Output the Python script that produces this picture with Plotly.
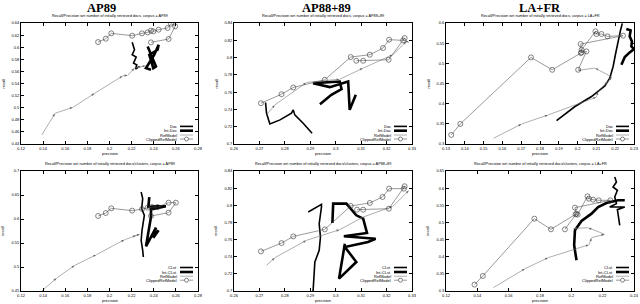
import plotly.graph_objects as go

# ---------------- data: precision / recall per series ----------------
# Panel 1: AP89, documents
ap89_doc_prec = [0.2205, 0.2226, 0.2205, 0.2241, 0.2217, 0.2247, 0.2235, 0.2271]
ap89_doc_rec = [0.6080, 0.5958, 0.5875, 0.5836, 0.5737, 0.5709, 0.5638, 0.5682]
ap89_intdoc_prec = [0.2345, 0.2420, 0.2396, 0.2360, 0.2435, 0.2444, 0.2405, 0.2330, 0.2375]
ap89_intdoc_rec = [0.6013, 0.5682, 0.5654, 0.5875, 0.5958, 0.6041, 0.5875, 0.5654, 0.5627]
ap89_ref_prec = [0.1388, 0.1508, 0.1672, 0.1867, 0.2121, 0.2166, 0.2226, 0.2286, 0.2330]
ap89_ref_rec = [0.4549, 0.4908, 0.5008, 0.5240, 0.5527, 0.5538, 0.5654, 0.5682, 0.5693]
ap89_clip_prec = [0.1897, 0.1966, 0.2016, 0.2205, 0.2294, 0.2345, 0.2375, 0.2396, 0.2444,
                  0.2525, 0.2555, 0.2594, 0.2534, 0.2375]
ap89_clip_rec = [0.6085, 0.6140, 0.6229, 0.6190, 0.6229, 0.6245, 0.6273, 0.6262, 0.6290,
                 0.6317, 0.6389, 0.6345, 0.6135, 0.6080]

# Panel 2: AP88+89, documents
ap8889_doc_prec = [0.2724, 0.2728, 0.2741, 0.2781, 0.2826, 0.2833, 0.2839, 0.2872, 0.2907]
ap8889_doc_rec = [0.7480, 0.7356, 0.7232, 0.7279, 0.7356, 0.7395, 0.7337, 0.7240, 0.7124]
ap8889_intdoc_prec = [0.2938, 0.2983, 0.3023, 0.3016, 0.2911, 0.2977, 0.3049, 0.3055, 0.3079]
ap8889_intdoc_rec = [0.7460, 0.7569, 0.7634, 0.7723, 0.7704, 0.7658, 0.7723, 0.7395, 0.7569]
ap8889_ref_prec = [0.2728, 0.2761, 0.2885, 0.3016, 0.3108, 0.3225, 0.3278, 0.3288]
ap8889_ref_rec = [0.7337, 0.7453, 0.7712, 0.7750, 0.7878, 0.8033, 0.8187, 0.8176]
ap8889_clip_prec = [0.2706, 0.2787, 0.2833, 0.2957, 0.3059, 0.3134, 0.3186, 0.3210, 0.3265,
                    0.3271, 0.3208, 0.3108, 0.3081]
ap8889_clip_rec = [0.7472, 0.7576, 0.7654, 0.7743, 0.8006, 0.8033, 0.8110, 0.8207, 0.8199,
                   0.8226, 0.7975, 0.7963, 0.7963]

# Panel 3: LA+FR, documents
lafr_doc_prec = [0.1888, 0.1986, 0.2074, 0.2145, 0.2171, 0.2189, 0.2201, 0.2215, 0.2229, 0.2238]
lafr_doc_rec = [0.3581, 0.3929, 0.4177, 0.4442, 0.4633, 0.4923, 0.5213, 0.5544, 0.5834, 0.5990]
lafr_intdoc_prec = [0.2259, 0.2282, 0.2277, 0.2289, 0.2286, 0.2300, 0.2277, 0.2251, 0.2233]
lafr_intdoc_rec = [0.5851, 0.5818, 0.5669, 0.5544, 0.5420, 0.5354, 0.5271, 0.5155, 0.4964]
lafr_ref_prec = [0.1553, 0.1703, 0.1844, 0.2100, 0.2109, 0.2159, 0.2183, 0.2092, 0.2000]
lafr_ref_rec = [0.3142, 0.3498, 0.3722, 0.4161, 0.4302, 0.4550, 0.4658, 0.4882, 0.4824]
lafr_clip_prec = [0.1328, 0.1376, 0.1752, 0.1865, 0.2017, 0.2021, 0.2095, 0.2100, 0.2127,
                  0.2159, 0.2242, 0.2016, 0.2021, 0.2047, 0.2003]
lafr_clip_rec = [0.3225, 0.3498, 0.5147, 0.4840, 0.5254, 0.5337, 0.5793, 0.5727, 0.5727,
                 0.5669, 0.5685, 0.5478, 0.5271, 0.5296, 0.4840]

# Panel 4: AP89, clusters
ap89_clst_prec = [0.2286, 0.2300, 0.2291, 0.2315, 0.2294, 0.2286, 0.2300, 0.2306]
ap89_clst_rec = [0.6563, 0.6424, 0.6215, 0.6076, 0.5764, 0.5556, 0.5347, 0.5208]
ap89_intclst_prec = [0.2360, 0.2351, 0.2405, 0.2510, 0.2375, 0.2375, 0.2330, 0.2420, 0.2396, 0.2444]
ap89_intclst_rec = [0.6458, 0.6250, 0.6264, 0.6264, 0.6200, 0.6042, 0.5431, 0.5819, 0.5611, 0.5764]
ap89c_ref_prec = [0.1388, 0.1523, 0.1687, 0.1882, 0.2136, 0.2241, 0.2277]
ap89c_ref_rec = [0.4500, 0.4771, 0.5035, 0.5257, 0.5569, 0.5660, 0.5681]
ap89c_clip_prec = [0.1897, 0.1966, 0.2016, 0.2205, 0.2294, 0.2345, 0.2384, 0.2435, 0.2534,
                   0.2600, 0.2534, 0.2375]
ap89c_clip_rec = [0.6063, 0.6125, 0.6222, 0.6174, 0.6208, 0.6236, 0.6250, 0.6250, 0.6340,
                  0.6340, 0.6132, 0.6063]

# Panel 5: AP88+89, clusters
ap8889_clst_prec = [0.2892, 0.2944, 0.2944, 0.2935, 0.2940, 0.2935, 0.2918, 0.2914, 0.2911]
ap8889_clst_rec = [0.7922, 0.8011, 0.7980, 0.7785, 0.7630, 0.7474, 0.7338, 0.7202, 0.7000]
ap8889_intclst_prec = [0.2987, 0.2990, 0.3042, 0.3081, 0.3108, 0.3123, 0.3032, 0.3157, 0.3127,
                       0.3036, 0.3081, 0.3013, 0.3036]
ap8889_intclst_rec = [0.7793, 0.8019, 0.8019, 0.7883, 0.7844, 0.7677, 0.7638, 0.7610, 0.7572,
                      0.7513, 0.7338, 0.7144, 0.7552]
ap8889c_ref_prec = [0.2728, 0.2761, 0.2885, 0.3016, 0.3108, 0.3225, 0.3288]
ap8889c_ref_rec = [0.7299, 0.7389, 0.7591, 0.7716, 0.7863, 0.7988, 0.8174]
ap8889c_clip_prec = [0.2706, 0.2787, 0.2833, 0.2957, 0.3059, 0.3134, 0.3184, 0.3210, 0.3268,
                     0.3271, 0.3209, 0.3108, 0.3084]
ap8889c_clip_rec = [0.7462, 0.7559, 0.7637, 0.7719, 0.7992, 0.8027, 0.8097, 0.8194, 0.8194,
                    0.8222, 0.7960, 0.7949, 0.7949]

# Panel 6: LA+FR, clusters
lafr_clst_prec = [0.2277, 0.2288, 0.2266, 0.2294, 0.2277, 0.2288, 0.2245, 0.2341, 0.2294, 0.2302, 0.2309]
lafr_clst_rec = [0.6325, 0.6179, 0.6034, 0.5936, 0.5742, 0.5548, 0.5450, 0.5450, 0.5373, 0.5159, 0.4916]
lafr_intclst_prec = [0.2033, 0.2018, 0.2023, 0.2065, 0.2129, 0.2171, 0.2224, 0.2298, 0.2341]
lafr_intclst_rec = [0.3896, 0.4333, 0.4770, 0.5042, 0.5256, 0.5450, 0.5567, 0.5645, 0.5645]
lafrc_ref_prec = [0.1503, 0.1705, 0.1853, 0.2114, 0.2129, 0.2213, 0.2107, 0.2012]
lafrc_ref_rec = [0.3099, 0.3653, 0.3973, 0.4352, 0.4556, 0.4653, 0.4848, 0.4819]
lafrc_clip_prec = [0.1382, 0.1435, 0.1764, 0.1870, 0.2027, 0.2040, 0.2103, 0.2112, 0.2139,
                   0.2175, 0.2249, 0.2023, 0.2033, 0.1959]
lafrc_clip_rec = [0.3186, 0.3439, 0.5110, 0.4799, 0.5237, 0.5227, 0.5761, 0.5693, 0.5664,
                  0.5645, 0.5645, 0.5431, 0.5256, 0.4799]

# ---------------- ticks / labels ----------------
xt_ap89 = [0.12, 0.14, 0.16, 0.18, 0.20, 0.22, 0.24, 0.26, 0.28]
xt_ap89_txt = ["0.12", "0.14", "0.16", "0.18", "0.2", "0.22", "0.24", "0.26", "0.28"]
yt_ap89_doc = [0.44, 0.46, 0.48, 0.50, 0.52, 0.54, 0.56, 0.58, 0.60, 0.62, 0.64]
yt_ap89_doc_txt = ["0.44", "0.46", "0.48", "0.5", "0.52", "0.54", "0.56", "0.58", "0.6", "0.62", "0.64"]
xt_ap8889 = [0.26, 0.27, 0.28, 0.29, 0.30, 0.31, 0.32, 0.33]
xt_ap8889_txt = ["0.26", "0.27", "0.28", "0.29", "0.3", "0.31", "0.32", "0.33"]
yt_ap8889 = [0.70, 0.72, 0.74, 0.76, 0.78, 0.80, 0.82, 0.84]
yt_ap8889_txt = ["0.7", "0.72", "0.74", "0.76", "0.78", "0.8", "0.82", "0.84"]
xt_lafr_doc = [0.13, 0.14, 0.15, 0.16, 0.17, 0.18, 0.19, 0.20, 0.21, 0.22, 0.23]
xt_lafr_doc_txt = ["0.13", "0.14", "0.15", "0.16", "0.17", "0.18", "0.19", "0.2", "0.21", "0.22", "0.23"]
yt_lafr_doc = [0.30, 0.35, 0.40, 0.45, 0.50, 0.55, 0.60]
yt_lafr_doc_txt = ["0.3", "0.35", "0.4", "0.45", "0.5", "0.55", "0.6"]
yt_ap89_cl = [0.45, 0.50, 0.55, 0.60, 0.65, 0.70]
yt_ap89_cl_txt = ["0.45", "0.5", "0.55", "0.6", "0.65", "0.7"]
xt_lafr_cl = [0.12, 0.14, 0.16, 0.18, 0.20, 0.22, 0.24]
xt_lafr_cl_txt = ["0.12", "0.14", "0.16", "0.18", "0.2", "0.22", "0.24"]
yt_lafr_cl = [0.30, 0.35, 0.40, 0.45, 0.50, 0.55, 0.60, 0.65]
yt_lafr_cl_txt = ["0.3", "0.35", "0.4", "0.45", "0.5", "0.55", "0.6", "0.65"]

headers = ["AP89", "AP88+89", "LA+FR"]
doc_names = ["Doc", "Int-Doc", "RefModel", "ClippedRefModel"]
clst_names = ["CLst", "Int-CLst", "RefModel", "ClippedRefModel"]
title_doc = "Recall/Precision wrt number of initially retrieved docs, corpus = "
title_clst = "Recall/Precision wrt number of initially retrieved docs/clusters, corpus = "

W, H = 640, 304
FONT = "Liberation Sans"

# plot-area boxes in pixels (left, right, top, bottom)
cols_px = [(21, 198), (234, 412), (446, 634)]
rows_px = [(23, 144), (171, 291)]
header_cx = [101, 326, 540]

panels = [
    dict(row=0, col=0, corpus="AP89", names=doc_names,
         s=[(ap89_doc_prec, ap89_doc_rec), (ap89_intdoc_prec, ap89_intdoc_rec),
            (ap89_ref_prec, ap89_ref_rec), (ap89_clip_prec, ap89_clip_rec)],
         xt=(xt_ap89, xt_ap89_txt), yt=(yt_ap89_doc, yt_ap89_doc_txt)),
    dict(row=0, col=1, corpus="AP88+89", names=doc_names,
         s=[(ap8889_doc_prec, ap8889_doc_rec), (ap8889_intdoc_prec, ap8889_intdoc_rec),
            (ap8889_ref_prec, ap8889_ref_rec), (ap8889_clip_prec, ap8889_clip_rec)],
         xt=(xt_ap8889, xt_ap8889_txt), yt=(yt_ap8889, yt_ap8889_txt)),
    dict(row=0, col=2, corpus="LA+FR", names=doc_names,
         s=[(lafr_doc_prec, lafr_doc_rec), (lafr_intdoc_prec, lafr_intdoc_rec),
            (lafr_ref_prec, lafr_ref_rec), (lafr_clip_prec, lafr_clip_rec)],
         xt=(xt_lafr_doc, xt_lafr_doc_txt), yt=(yt_lafr_doc, yt_lafr_doc_txt)),
    dict(row=1, col=0, corpus="AP89", names=clst_names,
         s=[(ap89_clst_prec, ap89_clst_rec), (ap89_intclst_prec, ap89_intclst_rec),
            (ap89c_ref_prec, ap89c_ref_rec), (ap89c_clip_prec, ap89c_clip_rec)],
         xt=(xt_ap89, xt_ap89_txt), yt=(yt_ap89_cl, yt_ap89_cl_txt)),
    dict(row=1, col=1, corpus="AP88+89", names=clst_names,
         s=[(ap8889_clst_prec, ap8889_clst_rec), (ap8889_intclst_prec, ap8889_intclst_rec),
            (ap8889c_ref_prec, ap8889c_ref_rec), (ap8889c_clip_prec, ap8889c_clip_rec)],
         xt=(xt_ap8889, xt_ap8889_txt), yt=(yt_ap8889, yt_ap8889_txt)),
    dict(row=1, col=2, corpus="LA+FR", names=clst_names,
         s=[(lafr_clst_prec, lafr_clst_rec), (lafr_intclst_prec, lafr_intclst_rec),
            (lafrc_ref_prec, lafrc_ref_rec), (lafrc_clip_prec, lafrc_clip_rec)],
         xt=(xt_lafr_cl, xt_lafr_cl_txt), yt=(yt_lafr_cl, yt_lafr_cl_txt)),
]

styles = [
    dict(mode="lines", line=dict(color="black", width=1.6)),
    dict(mode="lines", line=dict(color="black", width=2.6)),
    dict(mode="lines+markers", line=dict(color="#777777", width=0.6),
         marker=dict(symbol="arrow", size=3.5, angleref="previous", color="#666666")),
    dict(mode="lines+markers", line=dict(color="#555555", width=0.6),
         marker=dict(symbol="circle-open", size=5, color="#333333", line=dict(width=0.6))),
]

fig = go.Figure()
annotations = []
shapes = []


def px_x(v):
    return v / W


def px_y(v):
    return 1 - v / H


for i, p in enumerate(panels):
    k = "" if i == 0 else str(i + 1)
    L, R = cols_px[p["col"]]
    T, B = rows_px[p["row"]]
    for (xs, ys), st in zip(p["s"], styles):
        fig.add_trace(go.Scatter(x=xs, y=ys, xaxis="x" + k, yaxis="y" + k,
                                 showlegend=False, hoverinfo="skip", **st))
    xt, xtt = p["xt"]
    yt, ytt = p["yt"]
    axcommon = dict(showgrid=False, zeroline=False, showline=True, linecolor="black",
                    linewidth=0.8, mirror="allticks", ticks="inside", ticklen=3,
                    tickcolor="black", tickwidth=0.6, automargin=False,
                    tickfont=dict(family=FONT, size=4, color="black"))
    fig.update_layout(**{
        "xaxis" + k: dict(domain=[px_x(L), px_x(R)], range=[xt[0], xt[-1]],
                          tickvals=xt, ticktext=xtt, anchor="y" + k, **axcommon),
        "yaxis" + k: dict(domain=[px_y(B), px_y(T)], range=[yt[0], yt[-1]],
                          tickvals=yt, ticktext=ytt, anchor="x" + k, **axcommon),
    })
    cx = (L + R) / 2
    # subplot title
    ttl = (title_doc if p["row"] == 0 else title_clst) + p["corpus"]
    annotations.append(dict(text=ttl, x=px_x(cx), y=px_y(T - 7), xref="paper", yref="paper",
                            showarrow=False, font=dict(family=FONT, size=3.8, color="black"),
                            xanchor="center", yanchor="middle"))
    # axis labels
    annotations.append(dict(text="precision", x=px_x(cx), y=px_y(B + 9.5), xref="paper",
                            yref="paper", showarrow=False,
                            font=dict(family=FONT, size=4, color="black"),
                            xanchor="center", yanchor="middle"))
    annotations.append(dict(text="recall", x=px_x(L - 18), y=px_y((T + B) / 2), xref="paper",
                            yref="paper", showarrow=False, textangle=-90,
                            font=dict(family=FONT, size=4, color="black"),
                            xanchor="center", yanchor="middle"))
    # legend (text left, sample right, as in the original)
    offs = [17.6, 13.3, 9.0, 5.0] if p["row"] == 0 else [23.5, 19.0, 14.8, 10.8]
    for j, (nm, st) in enumerate(zip(p["names"], styles)):
        yy = B - offs[j]
        annotations.append(dict(text=nm, x=px_x(R - 19), y=px_y(yy), xref="paper",
                                yref="paper", showarrow=False,
                                font=dict(family=FONT, size=4, color="black"),
                                xanchor="right", yanchor="middle"))
        shapes.append(dict(type="line", xref="paper", yref="paper",
                           x0=px_x(R - 18), x1=px_x(R - 5), y0=px_y(yy), y1=px_y(yy),
                           line=dict(color=st["line"]["color"], width=st["line"]["width"])))
        if j == 3:
            mx = R - 11.5
            shapes.append(dict(type="circle", xref="paper", yref="paper",
                               x0=px_x(mx - 2), x1=px_x(mx + 2),
                               y0=px_y(yy + 2), y1=px_y(yy - 2),
                               line=dict(color="#333333", width=0.6), fillcolor="white"))

# column headers
for c, h in enumerate(headers):
    annotations.append(dict(text="<b>" + h + "</b>", x=px_x(header_cx[c]),
                            y=1.0, xref="paper", yref="paper", showarrow=False,
                            borderpad=0,
                            font=dict(family="Liberation Serif", size=12.5, color="black"),
                            xanchor="center", yanchor="top"))

fig.update_layout(template="none", width=W, height=H, margin=dict(l=0, r=0, t=0, b=0),
                  paper_bgcolor="white", plot_bgcolor="white",
                  annotations=annotations, shapes=shapes, showlegend=False)

fig.write_html("out.html", config={"displayModeBar": False},
               post_script="document.body.style.margin='0px';document.body.style.padding='0px';")
